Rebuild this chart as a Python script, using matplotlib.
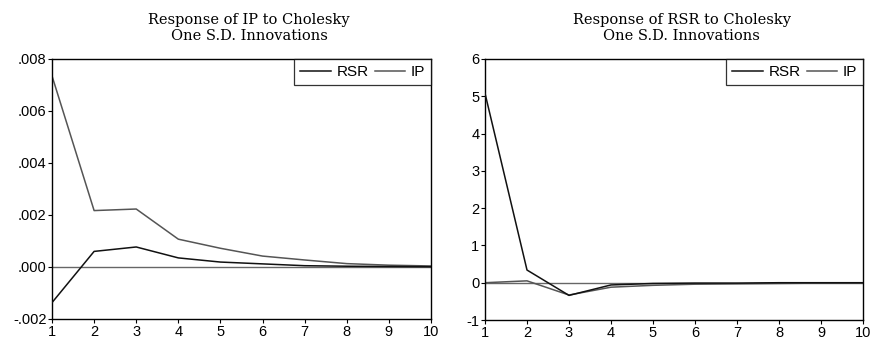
import matplotlib.pyplot as plt

periods = [1, 2, 3, 4, 5, 6, 7, 8, 9, 10]

# Response of IP
ip_to_rsr = [-0.00137, 0.00060, 0.00077, 0.00035, 0.00019, 0.00012, 0.00005, 0.00003, 0.00002, 0.00001]
ip_to_ip = [0.00735, 0.00217, 0.00223, 0.00107, 0.00072, 0.00042, 0.00027, 0.00013, 0.00007, 0.00004]

# Response of RSR
rsr_to_rsr = [5.08, 0.34, -0.34, -0.06, -0.02, -0.01, -0.01, 0.0, 0.0, 0.0]
rsr_to_ip = [0.0, 0.05, -0.33, -0.12, -0.07, -0.04, -0.03, -0.02, -0.01, -0.01]

left_ticks = [-0.002, 0.0, 0.002, 0.004, 0.006, 0.008]
left_labels = ['-.002', '.000', '.002', '.004', '.006', '.008']
right_ticks = [-1, 0, 1, 2, 3, 4, 5, 6]

titles = ['Response of IP to Cholesky\nOne S.D. Innovations',
          'Response of RSR to Cholesky\nOne S.D. Innovations']

plt.rcParams['font.family'] = ['Liberation Sans', 'DejaVu Sans']

fig = plt.figure(figsize=(8.71, 3.41), dpi=100)
ax1 = fig.add_axes([52 / 871, 1 - 319 / 341, 379 / 871, 260 / 341])
ax2 = fig.add_axes([485 / 871, 1 - 320 / 341, 378 / 871, 261 / 341])

panels = [
    (ax1, ip_to_rsr, ip_to_ip, (-0.002, 0.008), left_ticks, left_labels),
    (ax2, rsr_to_rsr, rsr_to_ip, (-1, 6), right_ticks, [str(t) for t in right_ticks]),
]

for i, (ax, rsr, ip, ylim, yt, yl) in enumerate(panels):
    ax.axhline(0, color='#666666', lw=1.0, zorder=1)
    ax.plot(periods, rsr, color='#111111', lw=1.1, label='RSR', zorder=3)
    ax.plot(periods, ip, color='#555555', lw=1.1, label='IP', zorder=2)
    ax.set_xlim(1, 10)
    ax.set_ylim(*ylim)
    ax.set_xticks(periods)
    ax.set_yticks(yt)
    ax.set_yticklabels(yl)
    ax.tick_params(direction='out', length=3, width=0.8, labelsize=10.5, pad=1,
                   top=False, right=False, colors='black')
    for s in ax.spines.values():
        s.set_linewidth(1.0)
    ax.set_title(titles[i], family='DejaVu Serif', fontsize=10.5,
                 linespacing=1.1, pad=14, x=0.52)
    leg = ax.legend(loc='upper right', ncol=2, frameon=True, fancybox=False,
                    borderaxespad=0, handlelength=2.0, handletextpad=0.35,
                    columnspacing=0.4, fontsize=11, borderpad=0.4)
    leg.get_frame().set_edgecolor('black')
    leg.get_frame().set_linewidth(0.9)

plt.savefig('out.png', dpi=100)
